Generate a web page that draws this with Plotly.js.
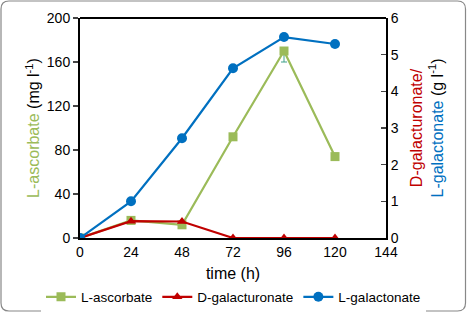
<!DOCTYPE html>
<html><head><meta charset="utf-8">
<script src="https://cdn.plot.ly/plotly-3.0.1.min.js"></script>
<style>html,body{margin:0;padding:0;background:#fff}#c{width:467px;height:312px}</style>
</head><body><div id="c"></div>
<script>
const time = [0, 24, 48, 72, 96, 120];
const ascorbate = [0, 16, 12, 92, 170, 74];
const ascorbateErrPlus = [0, 1, 1, 2, 3, 3];
const ascorbateErrMinus = [0, 1, 1, 2, 10, 3];
const galacturonate = [0, 0.46, 0.45, 0, 0, 0];
const galactonate = [0, 1.0, 2.72, 4.63, 5.48, 5.29];
const xTicks = [0, 24, 48, 72, 96, 120, 144];
const yLeftTicks = [0, 40, 80, 120, 160, 200];
const yRightTicks = [0, 1, 2, 3, 4, 5, 6];

const green = '#9BBB59', red = '#C00000', blue = '#0070C0';
const fam = 'Liberation Sans, Arial, sans-serif';
const tickFont = {family: fam, size: 14, color: '#000'};
const titleFont = {family: fam, size: 16, color: '#000'};

// outer margins (wide plot area so the horizontal legend fits on one row)
const ML = 20, MR = 20, MT = 18, MB = 74, WID = 467, HEI = 312;
const GW = WID - ML - MR, GH = HEI - MT - MB;
// axes placement inside the plot area (pixels)
const AX0 = 80, AX1 = 386;

const traces = [
  {x: time, y: ascorbate, name: 'L-ascorbate', type: 'scatter', mode: 'lines+markers',
   line: {color: green, width: 2.2}, marker: {symbol: 'square', size: 9, color: green},
   error_y: {type: 'data', symmetric: false, array: ascorbateErrPlus, arrayminus: ascorbateErrMinus,
             color: '#3FA08A', thickness: 1, width: 3}},
  {x: time, y: galacturonate, name: 'D-galacturonate', type: 'scatter', mode: 'lines+markers', yaxis: 'y2',
   line: {color: red, width: 2.2}, marker: {symbol: 'triangle-up', size: 9, color: red}},
  {x: time, y: galactonate, name: 'L-galactonate', type: 'scatter', mode: 'lines+markers', yaxis: 'y2',
   line: {color: blue, width: 2.2}, marker: {symbol: 'circle', size: 10, color: blue}}
];

const px = v => ((v - ML) / GW);
const py = v => (1 - (v - MT) / GH);

const layout = {
  width: WID, height: HEI,
  margin: {l: ML, r: MR, t: MT, b: MB, autoexpand: false},
  paper_bgcolor: '#fff', plot_bgcolor: 'rgba(0,0,0,0)',
  font: tickFont,
  showlegend: true,
  legend: {orientation: 'h', xref: 'container', yref: 'container', x: 0.5, xanchor: 'center',
           y: 0.048, yanchor: 'middle',
           font: {family: fam, size: 13.5, color: '#000'}, itemwidth: 30, tracegroupgap: 0},
  xaxis: {domain: [px(AX0), px(AX1)], range: [0, 144], tickvals: xTicks, ticktext: xTicks.map(String),
          showgrid: false, zeroline: false, showline: true, linecolor: '#000', linewidth: 2,
          mirror: false, ticks: 'outside', ticklen: 0, tickfont: tickFont,
          title: {text: 'time (h)', font: titleFont, standoff: 12}},
  yaxis: {range: [0, 200], tickvals: yLeftTicks, showgrid: false, zeroline: false,
          showline: true, linecolor: '#000', linewidth: 2, ticks: 'outside', ticklen: 5, tickwidth: 1.5,
          tickfont: tickFont,
          title: {text: '<span style="color:' + green + '">L-ascorbate</span> (mg l<sup>-1</sup>)', font: titleFont, standoff: 3}},
  yaxis2: {range: [0, 6], tickvals: yRightTicks, overlaying: 'y', side: 'right', showgrid: false,
           zeroline: false, showline: true, linecolor: '#000', linewidth: 2, ticks: 'inside', ticklen: 5,
           tickwidth: 1.5, tickfont: tickFont,
           title: {text: '<span style="color:' + red + '">D-galacturonate/</span><br><span style="color:' + blue + '">L-galactonate</span> (g l<sup>-1</sup>)', font: titleFont, standoff: 13}},
  shapes: [
    {type: 'line', xref: 'paper', yref: 'paper', x0: px(AX0), x1: px(AX1), y0: 1, y1: 1, line: {color: '#000', width: 2}},
    {type: 'path', xref: 'paper', yref: 'paper', layer: 'below',
     path: (function(){
       const f = v => v.toFixed(5);
       const X = v => f(px(v)), Y = v => f(py(v));
       const x0 = 1, x1 = 465.5, y0 = 1, y1 = 311, r = 8;
       return 'M' + X(x0 + r) + ',' + Y(y0) + ' L' + X(x1 - r) + ',' + Y(y0) +
         ' Q' + X(x1) + ',' + Y(y0) + ' ' + X(x1) + ',' + Y(y0 + r) +
         ' L' + X(x1) + ',' + Y(y1 - r) +
         ' Q' + X(x1) + ',' + Y(y1) + ' ' + X(x1 - r) + ',' + Y(y1) +
         ' L' + X(x0 + r) + ',' + Y(y1) +
         ' Q' + X(x0) + ',' + Y(y1) + ' ' + X(x0) + ',' + Y(y1 - r) +
         ' L' + X(x0) + ',' + Y(y0 + r) +
         ' Q' + X(x0) + ',' + Y(y0) + ' ' + X(x0 + r) + ',' + Y(y0) + ' Z';
     })(),
     line: {color: '#888', width: 1.2}}
  ]
};

Plotly.newPlot('c', traces, layout, {displayModeBar: false, staticPlot: true});
</script>
</body></html>
